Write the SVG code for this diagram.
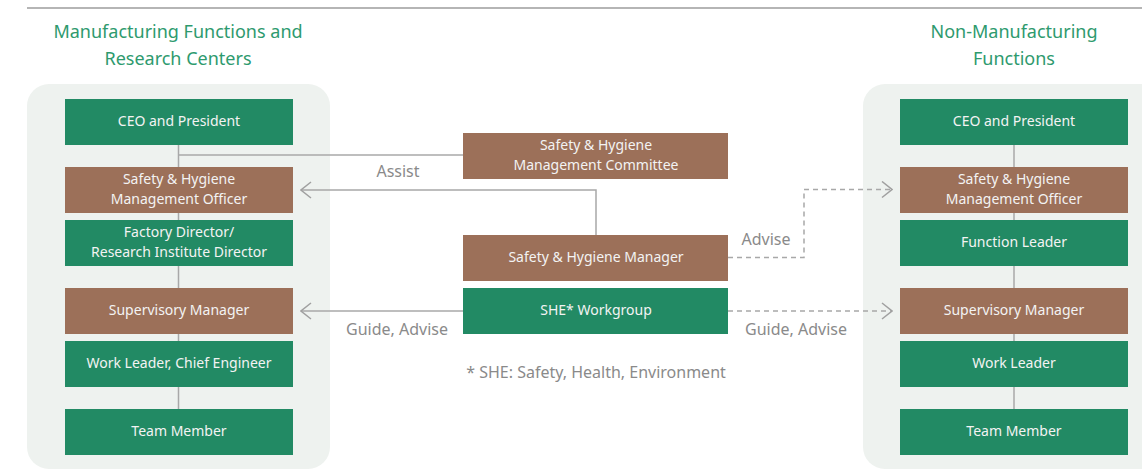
<svg xmlns="http://www.w3.org/2000/svg" width="1142" height="476" viewBox="0 0 1142 476">
<style>
.panel{fill:#eef2ef}
.g{fill:#228a64}
.b{fill:#9c7059}
.bt{font-family:"Noto Sans","Liberation Sans",sans-serif;font-size:14px;fill:#f3f3f3;text-anchor:middle}
.hd{font-family:"Noto Sans","Liberation Sans",sans-serif;font-size:18px;fill:#2e9a6e;text-anchor:middle}
.lb{font-family:"Noto Sans","Liberation Sans",sans-serif;font-size:16px;fill:#8a8a8a;text-anchor:middle}
.ln{stroke:#a8a8a8;stroke-width:1.5;fill:none}
.dl{stroke:#a8a8a8;stroke-width:1.5;fill:none;stroke-dasharray:5 4}
</style>
<defs>
<marker id="ar" viewBox="0 0 12 18" refX="11" refY="9" markerWidth="12" markerHeight="18" markerUnits="userSpaceOnUse" orient="auto">
<path d="M1,1 L11,9 L1,17" fill="none" stroke="#a0a0a0" stroke-width="1.5"/>
</marker>
</defs>
<line x1="27" y1="8" x2="1142" y2="8" stroke="#b5b5b5" stroke-width="2"/>
<g id="headings">
<text class="hd" x="178" y="38">Manufacturing Functions and</text>
<text class="hd" x="178" y="65">Research Centers</text>
<text class="hd" x="1014" y="38">Non-Manufacturing</text>
<text class="hd" x="1014" y="65">Functions</text>
</g>
<rect class="panel" x="27" y="84" width="303" height="385" rx="22"/>
<rect class="panel" x="863" y="84" width="320" height="385" rx="22"/>
<g id="connectors">
<line class="ln" x1="178.5" y1="145" x2="178.5" y2="409"/>
<line class="ln" x1="1014" y1="145" x2="1014" y2="409"/>
<line class="ln" x1="178.5" y1="155" x2="463" y2="155"/>
<path class="ln" d="M596,235 V190 H301" marker-end="url(#ar)"/>
<path class="ln" d="M463,311 H301" marker-end="url(#ar)"/>
<path class="dl" d="M728,257.5 H804 V189.5 H892" marker-end="url(#ar)"/>
<path class="dl" d="M728,311 H892" marker-end="url(#ar)"/>
<text class="lb" x="398" y="177">Assist</text>
<text class="lb" x="397" y="335">Guide, Advise</text>
<text class="lb" x="766" y="245">Advise</text>
<text class="lb" x="796" y="335">Guide, Advise</text>
</g>
<g id="l-ceo"><rect class="g" x="65" y="99" width="228" height="46"/><text class="bt" x="179" y="126">CEO and President</text></g>
<g id="l-officer"><rect class="b" x="65" y="167" width="228" height="46"/><text class="bt" x="179" y="184">Safety &amp; Hygiene</text><text class="bt" x="179" y="204">Management Officer</text></g>
<g id="l-director"><rect class="g" x="65" y="220" width="228" height="46"/><text class="bt" x="179" y="237">Factory Director/</text><text class="bt" x="179" y="257">Research Institute Director</text></g>
<g id="l-supervisory"><rect class="b" x="65" y="288" width="228" height="46"/><text class="bt" x="179" y="315">Supervisory Manager</text></g>
<g id="l-workleader"><rect class="g" x="65" y="341" width="228" height="46"/><text class="bt" x="179" y="368">Work Leader, Chief Engineer</text></g>
<g id="l-team"><rect class="g" x="65" y="409" width="228" height="46"/><text class="bt" x="179" y="436">Team Member</text></g>
<g id="committee"><rect class="b" x="463" y="133" width="265" height="46"/><text class="bt" x="596" y="150">Safety &amp; Hygiene</text><text class="bt" x="596" y="170">Management Committee</text></g>
<g id="manager"><rect class="b" x="463" y="235" width="265" height="46"/><text class="bt" x="596" y="262">Safety &amp; Hygiene Manager</text></g>
<g id="she"><rect class="g" x="463" y="288" width="265" height="46"/><text class="bt" x="596" y="315">SHE* Workgroup</text></g>
<text class="lb" x="596" y="378">* SHE: Safety, Health, Environment</text>
<g id="r-ceo"><rect class="g" x="900" y="99" width="228" height="46"/><text class="bt" x="1014" y="126">CEO and President</text></g>
<g id="r-officer"><rect class="b" x="900" y="167" width="228" height="46"/><text class="bt" x="1014" y="184">Safety &amp; Hygiene</text><text class="bt" x="1014" y="204">Management Officer</text></g>
<g id="r-function"><rect class="g" x="900" y="220" width="228" height="46"/><text class="bt" x="1014" y="247">Function Leader</text></g>
<g id="r-supervisory"><rect class="b" x="900" y="288" width="228" height="46"/><text class="bt" x="1014" y="315">Supervisory Manager</text></g>
<g id="r-workleader"><rect class="g" x="900" y="341" width="228" height="46"/><text class="bt" x="1014" y="368">Work Leader</text></g>
<g id="r-team"><rect class="g" x="900" y="409" width="228" height="46"/><text class="bt" x="1014" y="436">Team Member</text></g>
</svg>
